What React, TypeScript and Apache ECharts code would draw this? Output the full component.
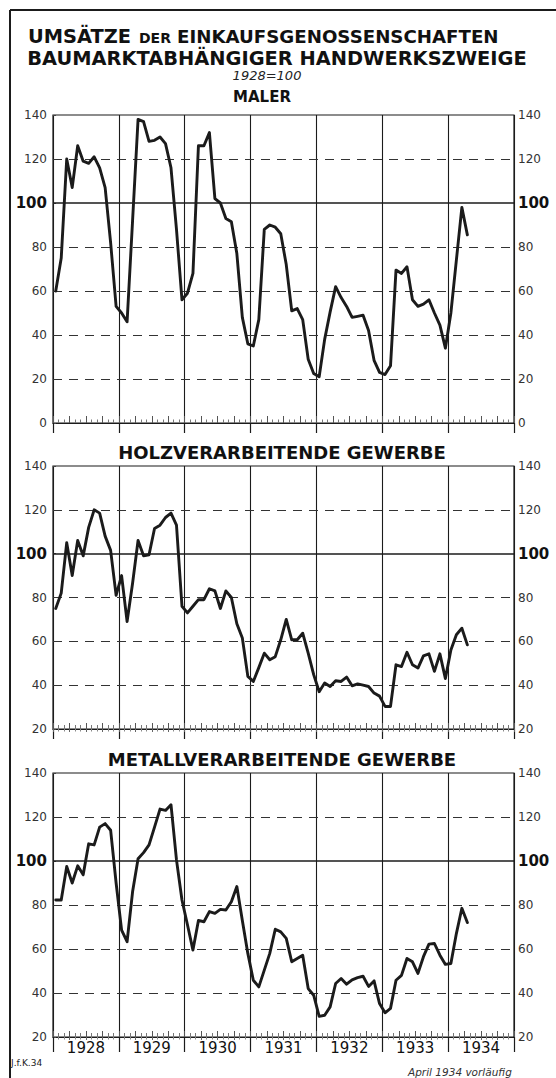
import React, { useEffect, useRef } from 'react';
import * as echarts from 'echarts';

// ---- data (index 1928 = 100), monthly Jan 1928 – Apr 1934 ----
const years = ['1928', '1929', '1930', '1931', '1932', '1933', '1934'];

const maler = [
  60, 75, 120, 107, 126, 119, 118, 121, 116, 107, 82, 53,
  50, 46, 92, 138, 137, 128, 128.5, 130, 127, 116, 88, 56,
  59, 68, 126, 126, 132, 102, 100, 93, 91.5, 77, 48, 36,
  35, 47, 88, 90, 89, 86, 72, 51, 52, 47, 29, 22.5,
  21, 38, 50.5, 62, 57, 53, 48, 48.5, 49, 42, 28.5, 23,
  22, 26, 69.5, 68, 71, 56, 53, 54, 56, 50, 44.5, 34,
  50, 74, 98, 85.5,
];

const holz = [
  75, 82, 105, 90, 106, 99, 112, 120, 118.5, 108, 101.5, 81,
  90, 69, 86.5, 106, 99, 99.5, 111.5, 113, 116.5, 118.5, 113, 76,
  73, 76, 79, 79, 84, 83, 75, 83, 80, 68, 61.5, 44,
  41.7, 48, 54.6, 51.6, 53, 60.7, 70, 60.7, 60.7, 63.7, 54.6, 44.8,
  37, 41, 39.4, 42, 41.7, 43.7, 39.7, 40.6, 40, 39.4, 36.4, 35,
  30.3, 30.3, 49.3, 48.5, 55, 49.3, 47.8, 53.4, 54.3, 46.3, 54.3, 43,
  56, 63, 66, 58.4,
];

const metall = [
  82.3, 82.3, 97.5, 90, 97.8, 93.7, 107.8, 107.3, 115.4, 117, 114, 90,
  68.6, 63.3, 86, 101, 103.8, 107.3, 115.4, 123.6, 123, 125.6, 100.5, 82.3,
  71, 59.5, 73, 72.4, 77, 76.2, 78, 77.7, 81.5, 88.4, 73, 58,
  45.8, 42.8, 50.4, 58, 69, 67.8, 64.8, 54.2, 55.7, 57.2, 42, 39,
  29.4, 29.9, 33.7, 44.3, 46.6, 44, 46, 47, 47.6, 43, 45.5, 35.2,
  31, 33, 45.8, 48, 55.7, 54.2, 48.9, 56.5, 62.2, 62.5, 57.2, 53,
  53.4, 67, 78.5, 72,
];

const panelTitles = ['MALER', 'HOLZVERARBEITENDE GEWERBE', 'METALLVERARBEITENDE GEWERBE'];
const yMins = [0, 20, 20];
const yMax = 140;
const yStep = 20;
const baseValue = 100;
const monthsTotal = 84;

const FONT = '"DejaVu Sans", "Noto Sans", sans-serif';
const INK = '#1b1b1b';

function buildOption() {
  const series = [maler, holz, metall];
  const gridPos = [
    { top: 115, height: 308 },
    { top: 466, height: 263 },
    { top: 773, height: 264 },
  ];
  const grid = gridPos.map((g) => ({
    left: 53,
    width: 461,
    top: g.top,
    height: g.height,
    show: true,
    borderColor: INK,
    borderWidth: 1.2,
    backgroundColor: 'transparent',
  }));

  const xAxis: any[] = [];
  const yAxis: any[] = [];
  const seriesOpt: any[] = [];

  const yLabel = (pos: 'left' | 'right') => ({
    show: true,
    margin: pos === 'left' ? 6 : 4,
    color: '#333',
    fontSize: 12,
    fontFamily: FONT,
    formatter: (v: number) => (v === baseValue ? '{b|' + v + '}' : String(v)),
    rich: { b: { fontWeight: 'bold', fontSize: 15, color: '#111', fontFamily: FONT } },
  });

  for (let k = 0; k < 3; k++) {
    const mainIdx = xAxis.length;
    xAxis.push({
      type: 'value', gridIndex: k, position: 'bottom', min: 0, max: monthsTotal, interval: 12,
      axisLine: { show: true, onZero: false, lineStyle: { color: INK, width: 1.2 } },
      axisTick: { show: k < 2, length: 10, lineStyle: { color: INK, width: 1.2 } },
      axisLabel: { show: false },
      splitLine: { show: true, lineStyle: { color: INK, width: 1.1 } },
    });
    xAxis.push({
      type: 'value', gridIndex: k, position: 'bottom', min: 0, max: monthsTotal, interval: 3,
      axisLine: { show: false, onZero: false },
      axisTick: { show: true, inside: true, length: k === 0 ? 7 : 6, lineStyle: { color: '#555', width: 1 } },
      minorTick: { show: true, splitNumber: 3, length: k === 0 ? 3.5 : 4, lineStyle: { color: '#777', width: 1 } },
      axisLabel: { show: false },
      splitLine: { show: false },
    });
    if (k > 0) {
      xAxis.push({
        type: 'value', gridIndex: k, position: 'bottom', min: 0, max: monthsTotal, interval: 3,
        axisLine: { show: false, onZero: false },
        axisTick: { show: true, inside: false, length: 3, lineStyle: { color: '#666', width: 1 } },
        minorTick: { show: true, splitNumber: 3, length: 2.5, lineStyle: { color: '#888', width: 1 } },
        axisLabel: { show: false },
        splitLine: { show: false },
      });
    }
    if (k === 2) {
      xAxis.push({
        type: 'category', gridIndex: k, position: 'bottom', data: years, boundaryGap: true,
        axisLine: { show: false, onZero: false },
        axisTick: { show: true, interval: 0, length: 15, lineStyle: { color: INK, width: 1.2 } },
        axisLabel: { show: true, interval: 0, margin: 3, fontSize: 15, fontFamily: FONT, color: '#111' },
        splitLine: { show: false },
      });
    }

    const leftIdx = yAxis.length;
    yAxis.push({
      type: 'value', gridIndex: k, position: 'left', min: yMins[k], max: yMax, interval: yStep,
      axisLine: { show: false }, axisTick: { show: false },
      axisLabel: yLabel('left'),
      splitLine: { show: false },
    });
    yAxis.push({
      type: 'value', gridIndex: k, position: 'right', min: yMins[k], max: yMax, interval: yStep,
      axisLine: { show: false },
      axisTick: { show: true, length: 3, lineStyle: { color: '#444' } },
      axisLabel: yLabel('right'),
      splitLine: { show: false },
    });

    // horizontal reference lines at inner ticks: dashed; the base value (100) solid
    const refLines: any[] = [];
    for (let v = yMins[k] + yStep; v < yMax; v += yStep) {
      refLines.push(
        v === baseValue
          ? { yAxis: v, lineStyle: { color: INK, width: 1.6, type: 'solid' } }
          : { yAxis: v, lineStyle: { color: '#333333', width: 1.2, type: [9, 7] } }
      );
    }

    seriesOpt.push({
      type: 'line',
      xAxisIndex: mainIdx,
      yAxisIndex: leftIdx,
      data: series[k].map((v, i) => [i + 0.5, v]),
      showSymbol: false,
      symbol: 'none',
      lineStyle: { color: INK, width: 2.9, join: 'round', cap: 'round' },
      markLine: {
        silent: true,
        symbol: ['none', 'none'],
        label: { show: false },
        data: refLines,
      },
      z: 5,
    });
  }

  const bold = (size: number) => `bold ${size}px ${FONT}`;
  const graphic: any[] = [
    { type: 'line', shape: { x1: 10, y1: 10, x2: 556, y2: 10 }, style: { stroke: INK, lineWidth: 2 } },
    { type: 'line', shape: { x1: 10, y1: 10, x2: 10, y2: 1078 }, style: { stroke: INK, lineWidth: 2 } },
    { type: 'text', x: 28, y: 36, style: { text: 'UMSÄTZE', font: bold(19.4), fill: '#111', textAlign: 'left', textVerticalAlign: 'middle' } },
    { type: 'text', x: 139, y: 38, style: { text: 'DER', font: bold(14), fill: '#111', textAlign: 'left', textVerticalAlign: 'middle' } },
    { type: 'text', x: 177, y: 36, style: { text: 'EINKAUFSGENOSSENSCHAFTEN', font: bold(18.2), fill: '#111', textAlign: 'left', textVerticalAlign: 'middle' } },
    { type: 'text', x: 277, y: 58, style: { text: 'BAUMARKTABHÄNGIGER HANDWERKSZWEIGE', font: bold(19.4), fill: '#111', textAlign: 'center', textVerticalAlign: 'middle' } },
    { type: 'text', x: 267, y: 75, style: { text: '1928=100', font: `italic 13px ${FONT}`, fill: '#222', textAlign: 'center', textVerticalAlign: 'middle' } },
    { type: 'text', x: 262, y: 97, style: { text: panelTitles[0], font: bold(15), fill: '#111', textAlign: 'center', textVerticalAlign: 'middle' } },
    { type: 'text', x: 282, y: 452, style: { text: panelTitles[1], font: bold(18), fill: '#111', textAlign: 'center', textVerticalAlign: 'middle' } },
    { type: 'text', x: 282, y: 759, style: { text: panelTitles[2], font: bold(18), fill: '#111', textAlign: 'center', textVerticalAlign: 'middle' } },
    { type: 'text', x: 11, y: 1063, style: { text: 'J.f.K.34', font: `9px ${FONT}`, fill: '#222', textAlign: 'left', textVerticalAlign: 'middle' } },
    { type: 'text', x: 408, y: 1072, style: { text: 'April 1934 vorläufig', font: `italic 10.5px ${FONT}`, fill: '#333', textAlign: 'left', textVerticalAlign: 'middle' } },
  ];

  return {
    animation: false,
    backgroundColor: '#fff',
    grid,
    xAxis,
    yAxis,
    series: seriesOpt,
    graphic,
  };
}

export default function App() {
  const ref = useRef<HTMLDivElement>(null);
  useEffect(() => {
    const chart = echarts.init(ref.current!, null, { renderer: 'svg' });
    chart.setOption(buildOption() as any);
    return () => chart.dispose();
  }, []);
  return (
    <div
      ref={ref}
      style={{ position: 'fixed', left: 0, top: 0, width: 556, height: 1078, background: '#fff' }}
    />
  );
}
